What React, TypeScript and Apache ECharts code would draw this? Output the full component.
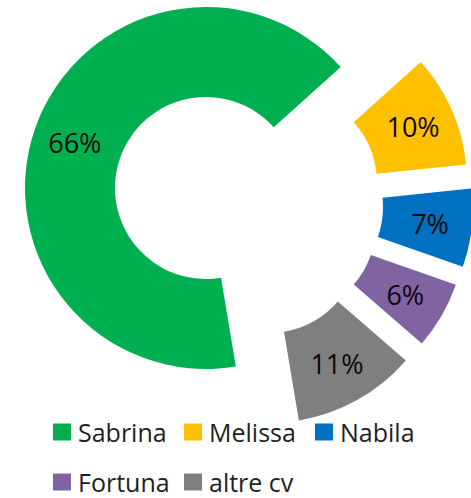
import React, { useEffect, useRef } from "react";
import * as echarts from "echarts";

const categories = ["Sabrina", "Melissa", "Nabila", "Fortuna", "altre cv"];
const values = [66, 10, 7, 6, 11];
const colors = ["#00B050", "#FFC000", "#0070C0", "#8064A2", "#7F7F7F"];
const legendRow1 = ["Sabrina", "Melissa", "Nabila"];
const legendRow2 = ["Fortuna", "altre cv"];

// layout: first slice angle (clockwise from 12 o'clock) and per-slice centres (exploded)
const FIRST_ANGLE = 170.5;
const sliceCenters: [number, number][] = [
  [206, 188],
  [286, 183],
  [292, 207],
  [285, 225],
  [269, 242],
];

export default function App() {
  const ref = useRef<HTMLDivElement>(null);
  useEffect(() => {
    document.body.style.margin = "0";
    if (!ref.current) return;
    const chart = echarts.init(ref.current, null, { renderer: "svg" });
    const total = values.reduce((a, b) => a + b, 0);
    let cum = 0;
    const series = values.map((v, i) => {
      const theta = FIRST_ANGLE + (cum / total) * 360;
      cum += v;
      const start = (((90 - theta) % 360) + 360) % 360;
      return {
        type: "pie",
        silent: true,
        center: sliceCenters[i],
        radius: [91, 181],
        startAngle: start,
        clockwise: true,
        avoidLabelOverlap: false,
        labelLine: { show: false },
        label: {
          show: true,
          position: "inside",
          formatter: (p: any) => p.value + "%",
          fontFamily: "Open Sans",
          fontSize: 27,
          color: "#0a0a0a",
        },
        data: [
          { name: categories[i], value: v, itemStyle: { color: colors[i] } },
          {
            name: "__gap" + i,
            value: total - v,
            itemStyle: { color: "rgba(0,0,0,0)" },
            label: { show: false },
          },
        ],
      };
    });
    const legendCommon = {
      orient: "horizontal",
      left: 53,
      padding: 0,
      itemWidth: 18,
      itemHeight: 17,
      itemGap: 0,
      icon: "rect",
      selectedMode: false,
      textStyle: {
        fontFamily: "Open Sans",
        fontSize: 25,
        color: "#1f1f1f",
        width: 106,
        lineHeight: 28,
        padding: [0, 0, 0, 2],
      },
    };
    chart.setOption({
      animation: false,
      legend: [
        { ...legendCommon, top: 418, data: legendRow1 },
        { ...legendCommon, top: 468, data: legendRow2 },
      ],
      series,
    });
    return () => chart.dispose();
  }, []);
  return <div ref={ref} style={{ width: 471, height: 498 }} />;
}
